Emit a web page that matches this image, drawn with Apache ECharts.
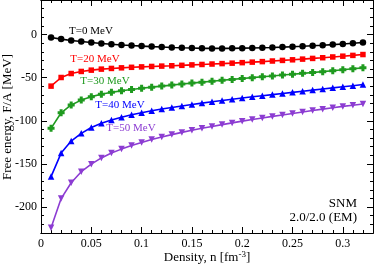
<!DOCTYPE html>
<html><head><meta charset="utf-8">
<script src="https://cdn.jsdelivr.net/npm/echarts@6/dist/echarts.min.js"></script>
<style>html,body{margin:0;padding:0;background:#fff}#c{width:374px;height:267px}</style>
</head><body><div id="c"></div>
<script>
const density = [0.01,0.02,0.03,0.04,0.05,0.06,0.07,0.08,0.09,0.10,0.11,0.12,0.13,0.14,0.15,0.16,0.17,0.18,0.19,0.20,0.21,0.22,0.23,0.24,0.25,0.26,0.27,0.28,0.29,0.30,0.31,0.32];
const fT0  = [-3.5,-5.3,-6.9,-8.1,-9.3,-10.4,-11.3,-12.1,-12.8,-13.4,-14.0,-14.5,-15.0,-15.4,-15.7,-16.0,-16.1,-16.1,-16.0,-15.8,-15.6,-15.3,-15.0,-14.6,-14.1,-13.6,-13.0,-12.4,-11.7,-10.9,-10.1,-9.2];
const fT20 = [-59.8,-49.8,-45.2,-42.8,-41.3,-40.1,-39.3,-38.6,-38.0,-37.5,-37.0,-36.6,-36.2,-35.7,-35.2,-34.7,-34.2,-33.7,-33.2,-32.6,-32.0,-31.4,-30.7,-30.0,-29.3,-28.5,-27.7,-26.9,-26.0,-25.1,-24.2,-23.2];
const fT30 = [-108.7,-90.7,-81.6,-76.0,-72.0,-69.3,-67.0,-65.2,-63.7,-62.3,-61.0,-59.8,-58.6,-57.4,-56.3,-55.2,-54.1,-53.0,-52.0,-51.0,-50.0,-49.0,-48.0,-47.0,-46.0,-45.0,-44.0,-43.0,-41.9,-40.8,-39.7,-38.6];
const fT40 = [-164.6,-137.4,-123.5,-114.5,-107.8,-102.8,-99.0,-95.8,-93.0,-90.6,-88.4,-86.4,-84.6,-82.8,-81.1,-79.5,-78.0,-76.5,-75.0,-73.6,-72.2,-70.9,-69.6,-68.3,-67.0,-65.7,-64.4,-63.1,-61.8,-60.5,-59.3,-58.0];
const fT50 = [-224.0,-190.1,-171.8,-159.0,-150.2,-143.0,-137.4,-132.8,-128.5,-125.1,-121.6,-118.7,-116.0,-113.4,-111.0,-108.7,-106.5,-104.4,-102.4,-100.4,-98.5,-96.7,-94.9,-93.2,-91.5,-89.8,-88.1,-86.5,-84.9,-83.3,-81.9,-80.5];
const seriesNames = ['T=0 MeV','T=20 MeV','T=30 MeV','T=40 MeV','T=50 MeV'];
const yMajorTicks = [-200,-150,-100,-50,0];
const xMajorTicks = [0,0.05,0.1,0.15,0.2,0.25,0.3];

const FONT = '"Liberation Serif","Times New Roman",serif';
const colors = ['#000000','#ff0000','#1f9a1f','#0000ff','#8c3cd2'];
const symbols = ['circle','rect','path://M2,0H5V2H7V5H5V7H2V5H0V2H2Z','triangle','path://M0,0L10,0L5,9Z'];
const symSizes = [6.5,5.5,7,6.5,6.5];
const allData = [fT0,fT20,fT30,fT40,fT50];

function isMult(v, step){ const r=v/step; return Math.abs(r-Math.round(r))<1e-6; }

const baseAxis = {
  axisLine:{show:true,onZero:false,lineStyle:{color:'#000',width:1}},
  splitLine:{show:false},
  axisLabel:{show:false},
  axisTick:{show:true,inside:true,length:3,lineStyle:{color:'#000',width:1}}
};
function xa(pos, major, labels){
  return Object.assign({}, baseAxis, {
    type:'value', position:pos, min:0, max:0.33, interval:0.01,
    axisTick: major ? {show:true,inside:true,length:6,customValues:xMajorTicks,lineStyle:{color:'#000'}} : baseAxis.axisTick,
    axisLabel: labels ? {show:true,color:'#000',fontFamily:FONT,fontSize:12,margin:5,
      formatter:v=>isMult(v,0.05)?String(parseFloat(v.toFixed(2))):''} : {show:false}
  });
}
function ya(pos, major, labels){
  return Object.assign({}, baseAxis, {
    type:'value', position:pos, min:-230, max:40, interval:10,
    axisTick: major ? {show:true,inside:true,length:6,customValues:yMajorTicks,lineStyle:{color:'#000'}} : baseAxis.axisTick,
    axisLabel: labels ? {show:true,color:'#000',fontFamily:FONT,fontSize:12,margin:4,
      formatter:v=>isMult(v,50)?String(Math.round(v)):''} : {show:false}
  });
}

const series = allData.map((d,i)=>({
  type:'line', name:seriesNames[i], xAxisIndex:0, yAxisIndex:0,
  data: density.map((x,j)=>[x,d[j]]),
  symbol:symbols[i], symbolSize:symSizes[i], showSymbol:true,
  lineStyle:{color:colors[i],width:1.6}, itemStyle:{color:colors[i]},
  animation:false, z:3
}));

const labelPos = [[91,31.5],[95,59],[105,81],[120,105.5],[131,128.5]];
const graphic = seriesNames.map((n,i)=>({
  type:'text', x:labelPos[i][0], y:labelPos[i][1],
  style:{text:n, fill:colors[i], font:'11px '+FONT, textAlign:'center', textVerticalAlign:'middle'}, z:10
})).concat([
  {type:'text', x:357, y:204, style:{text:'SNM', fill:'#000', font:'13px '+FONT, textAlign:'right', textVerticalAlign:'middle'}},
  {type:'text', x:357, y:218, style:{text:'2.0/2.0 (EM)', fill:'#000', font:'13px '+FONT, textAlign:'right', textVerticalAlign:'middle'}},
  {type:'text', x:8, y:117, rotation:Math.PI/2,
   style:{text:'Free energy, F/A [MeV]', fill:'#000', font:'13px '+FONT, textAlign:'center', textVerticalAlign:'middle'}},
  {type:'text', x:207, y:258,
   style:{text:'{a|Density, n [fm}{s|-3}{a|]}', textAlign:'center', textVerticalAlign:'middle',
     rich:{a:{fontFamily:FONT,fontSize:13,fill:'#000'},s:{fontFamily:FONT,fontSize:9,fill:'#000',verticalAlign:'top',padding:[0,0,6,0]}}}}
]);

const chart = echarts.init(document.getElementById('c'), null, {renderer:'canvas'});
chart.setOption({
  animation:false,
  backgroundColor:'#fff',
  grid:{left:41,right:1,top:0,bottom:34,containLabel:false,outerBoundsMode:'none'},
  xAxis:[xa('bottom',false,true), xa('bottom',true,false), xa('top',false,false), xa('top',true,false)],
  yAxis:[ya('left',false,true), ya('left',true,false), ya('right',false,false), ya('right',true,false)],
  series: series,
  graphic: graphic
});
</script></body></html>
